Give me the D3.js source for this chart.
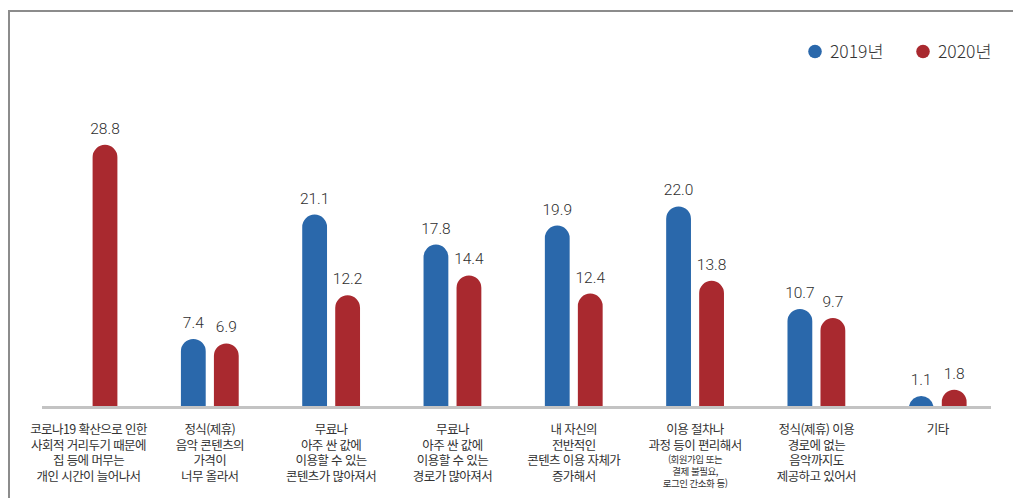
<!DOCTYPE html>
<html lang="ko">
<head>
<meta charset="utf-8">
<script src="https://cdn.jsdelivr.net/npm/d3@7"></script>
<style>
  html, body { margin: 0; padding: 0; background: #fff; }
  svg { display: block; }
</style>
</head>
<body>
<svg id="chart" width="1013" height="498"></svg>
<script>
// Reasons for using music streaming services, 2019 vs 2020 (%)
const categories = [
  "코로나19 확산으로 인한|사회적 거리두기 때문에|집 등에 머무는|개인 시간이 늘어나서",
  "정식(제휴)|음악 콘텐츠의|가격이|너무 올라서",
  "무료나|아주 싼 값에|이용할 수 있는|콘텐츠가 많아져서",
  "무료나|아주 싼 값에|이용할 수 있는|경로가 많아져서",
  "내 자신의|전반적인|콘텐츠 이용 자체가|증가해서",
  "이용 절차나|과정 등이 편리해서",
  "정식(제휴) 이용|경로에 없는|음악까지도|제공하고 있어서",
  "기타"
];
const categoryNotes = [
  "", "", "", "", "",
  "(회원가입 또는|결제 불필요,|로그인 간소화 등)",
  "", ""
];
const seriesNames = ["2019년", "2020년"];
const values2019 = [null, 7.4, 21.1, 17.8, 19.9, 22.0, 10.7, 1.1];
const values2020 = [28.8, 6.9, 12.2, 14.4, 12.4, 13.8, 9.7, 1.8];
const seriesColors = ["#2a68ab", "#a9292f"];

const svg = d3.select("#chart");
const baseY = 406;

// outer frame (top and left rules)
svg.append("path")
  .attr("d", "M9,498 L9,11 L1013,11")
  .attr("fill", "none")
  .attr("stroke", "#8c8c8c")
  .attr("stroke-width", 2);

const x0 = d3.scalePoint().domain(d3.range(categories.length)).range([88.5, 937.7]);
const x1 = d3.scaleBand().domain(seriesNames).range([-28.9, 28.9]).paddingInner(0.2485);
const y = d3.scaleLinear().domain([0, 30]).range([baseY, baseY - 272.1]);
const color = d3.scaleOrdinal().domain(seriesNames).range(seriesColors);

const rows = categories.map((c, i) => ({
  idx: i,
  values: [
    { series: seriesNames[0], value: values2019[i] },
    { series: seriesNames[1], value: values2020[i] }
  ]
}));

// rounded-top bar shape
function barPath(xl, w, top, base) {
  const r = w / 2;
  const h = base - top;
  const cx = xl + r;
  if (h >= r) {
    return `M${xl},${base} L${xl},${top + r} A${r},${r} 0 0 1 ${xl + w},${top + r} L${xl + w},${base} Z`;
  }
  const dy = base - (top + r);
  const hw = Math.sqrt(r * r - dy * dy);
  return `M${cx - hw},${base} A${r},${r} 0 0 1 ${cx + hw},${base} Z`;
}

const groups = svg.append("g").selectAll("g")
  .data(rows)
  .join("g")
  .attr("transform", d => `translate(${x0(d.idx)},0)`);

const bars = groups.selectAll("g.bar")
  .data(d => d.values.filter(v => v.value != null))
  .join("g")
  .attr("class", "bar");

bars.append("path")
  .attr("d", d => barPath(x1(d.series), x1.bandwidth(), y(d.value), baseY))
  .attr("fill", d => color(d.series));

bars.append("text")
  .attr("x", d => x1(d.series) + x1.bandwidth() / 2)
  .attr("y", d => y(d.value) - 11)
  .attr("text-anchor", "middle")
  .attr("font-family", "Roboto, 'Noto Sans', sans-serif")
  .attr("font-size", 15.5)
  .attr("font-weight", 300)
  .attr("fill", "#2e2e2e")
  .text(d => d.value.toFixed(1));

// baseline
svg.append("line")
  .attr("x1", 42).attr("x2", 991)
  .attr("y1", baseY + 1.5).attr("y2", baseY + 1.5)
  .attr("stroke", "#c3c3c3")
  .attr("stroke-width", 3);

// category labels, one text per line
const labelFont = "'Noto Sans CJK KR', 'Noto Sans', sans-serif";
const labelLines = [];
rows.forEach(d => {
  categories[d.idx].split("|").forEach((ln, k) => {
    labelLines.push({ x: x0(d.idx), y: 434 + k * 15.7, text: ln, size: 12.5, ls: -0.6 });
  });
  if (categoryNotes[d.idx]) {
    categoryNotes[d.idx].split("|").forEach((ln, k) => {
      labelLines.push({ x: x0(d.idx), y: 463 + k * 11.8, text: ln, size: 9.5, ls: -0.5 });
    });
  }
});

svg.append("g").selectAll("text")
  .data(labelLines)
  .join("text")
  .attr("x", d => d.x)
  .attr("y", d => d.y)
  .attr("text-anchor", "middle")
  .attr("font-family", labelFont)
  .attr("font-size", d => d.size)
  .attr("letter-spacing", d => d.ls)
  .attr("fill", "#333")
  .text(d => d.text);

// legend
const legend = svg.append("g").selectAll("g")
  .data(seriesNames)
  .join("g")
  .attr("transform", (d, i) => `translate(${815 + i * 108},51.5)`);

legend.append("circle")
  .attr("r", 6.8)
  .attr("fill", d => color(d));

legend.append("text")
  .attr("x", 15)
  .attr("y", 6.5)
  .attr("font-family", "'Noto Sans CJK KR', sans-serif")
  .attr("font-size", 17.5)
  .attr("font-weight", 300)
  .attr("fill", "#333")
  .text(d => d);
</script>
</body>
</html>
